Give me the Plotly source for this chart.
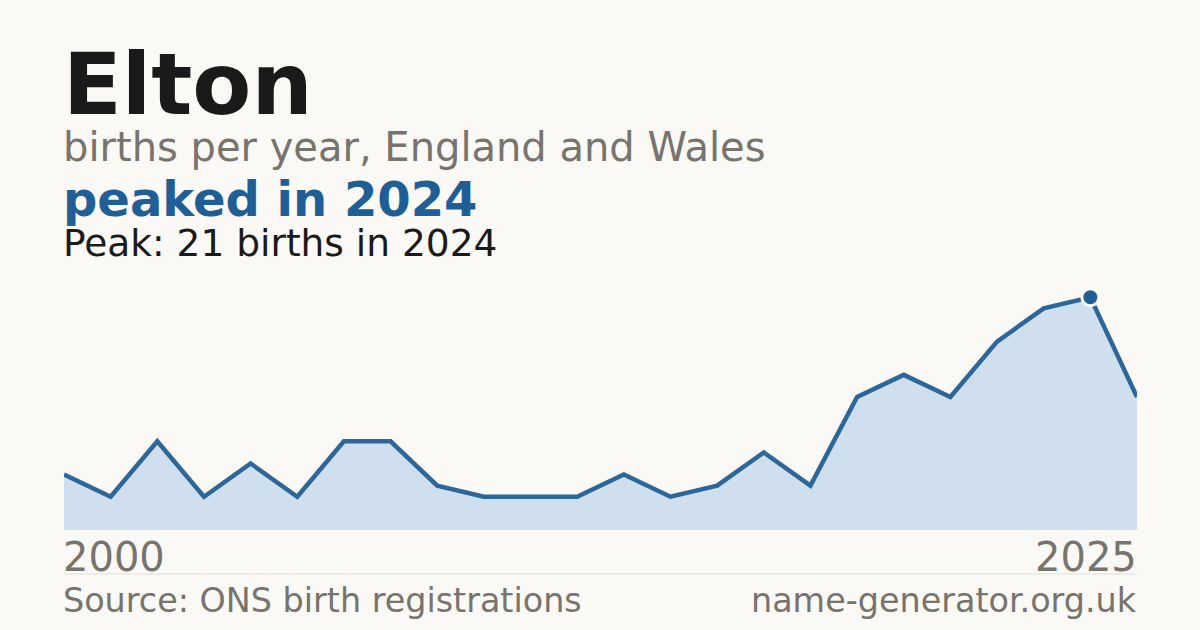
import plotly.graph_objects as go

# data ---------------------------------------------------------------------
NAME = "Elton"
years = ["2000", "2001", "2002", "2003", "2004", "2006", "2007", "2008",
         "2009", "2010", "2011", "2013", "2014", "2015", "2016", "2017",
         "2018", "2019", "2020", "2021", "2022", "2023", "2024", "2025"]
births = [5, 3, 8, 3, 6, 3, 8, 8, 4, 3, 3, 3, 5, 3, 4, 7, 4, 12, 14, 12, 17, 20, 21, 12]

peak_idx = births.index(max(births))
peak_year = years[peak_idx]
peak_val = births[peak_idx]

BG = "#faf9f5"
BLUE = "#1f5f96"
LINE = "#2d6699"
FILL = "#cfdfee"
GREY = "#77736d"
INK = "#1a1a1a"
FONT = "DejaVu Sans"

# plot area in pixels (used to place the header text)
W, H = 1200, 630
M_L, M_R, M_T, M_B = 64, 63, 274, 100
plot_h = H - M_T - M_B


def py(pixel_y):
    # pixel row -> paper y
    return (H - M_B - pixel_y) / plot_h


fig = go.Figure()
fig.add_trace(go.Scatter(
    x=years, y=births,
    mode="lines",
    line=dict(color=LINE, width=4.5),
    fill="tozeroy", fillcolor=FILL,
    hoverinfo="skip",
))
fig.add_trace(go.Scatter(
    x=[peak_year], y=[peak_val],
    mode="markers",
    marker=dict(color=BLUE, size=17, line=dict(color="white", width=3)),
    hoverinfo="skip",
))

# text, centre row, font size, colour, bold
texts = [
    (NAME, 84, 86, INK, True),
    ("births per year, England and Wales", 147, 40, GREY, False),
    (f"peaked in {peak_year}", 199, 48, BLUE, True),
    (f"Peak: {peak_val} births in {peak_year}", 243, 37.5, INK, False),
]
annotations = []
for txt, row, size, col, bold in texts:
    annotations.append(dict(
        text=f"<b>{txt}</b>" if bold else txt,
        xref="paper", yref="paper", x=0, y=py(row), xshift=-2,
        xanchor="left", yanchor="middle", showarrow=False, borderpad=0,
        font=dict(family=FONT, size=size, color=col),
    ))

# first / last year under the area
for xx, anchor, lab, shift in [(0, "left", years[0], -2), (1, "right", years[-1], 1)]:
    annotations.append(dict(
        text=lab, xref="paper", yref="paper", x=xx, y=py(557), xshift=shift,
        xanchor=anchor, yanchor="middle", showarrow=False, borderpad=0,
        font=dict(family=FONT, size=40, color=GREY),
    ))

# footer
annotations.append(dict(
    text="Source: ONS birth registrations", xref="paper", yref="paper",
    x=0, y=py(600), xshift=-2, xanchor="left", yanchor="middle",
    showarrow=False, borderpad=0,
    font=dict(family=FONT, size=33.4, color=GREY),
))
annotations.append(dict(
    text="name-generator.org.uk", xref="paper", yref="paper",
    x=1, y=py(600), xshift=1, xanchor="right", yanchor="middle",
    showarrow=False, borderpad=0,
    font=dict(family=FONT, size=33.4, color=GREY),
))

fig.update_layout(
    width=W, height=H,
    margin=dict(l=M_L, r=M_R, t=M_T, b=M_B, pad=0),
    paper_bgcolor=BG, plot_bgcolor=BG,
    showlegend=False,
    annotations=annotations,
    shapes=[dict(type="line", xref="paper", yref="paper",
                 x0=0, x1=1, y0=py(574), y1=py(574),
                 line=dict(color="#e2dfd8", width=1))],
    xaxis=dict(type="category", range=[0, len(years) - 1],
               showgrid=False, zeroline=False, showticklabels=False,
               showline=False, ticks=""),
    yaxis=dict(range=[0, max(births) * 1.1], showgrid=False, zeroline=False,
               showticklabels=False, showline=False, ticks=""),
)

# drop the browser's default page margin so the card sits at 0,0
fig.write_html("out.html", config={"displayModeBar": False},
               post_script="document.body.style.margin='0';")
